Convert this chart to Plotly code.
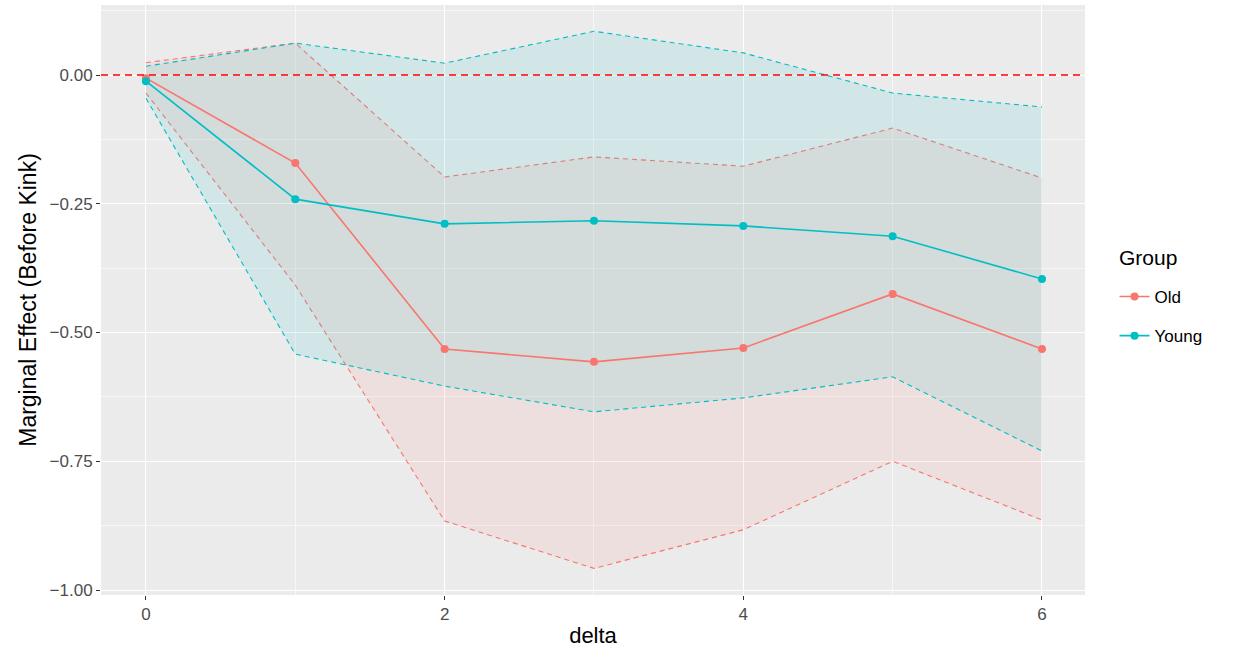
import plotly.graph_objects as go

delta = [0, 1, 2, 3, 4, 5, 6]
old_mean = [-0.006, -0.171, -0.532, -0.557, -0.530, -0.425, -0.532]
old_upper = [0.024, 0.062, -0.198, -0.159, -0.177, -0.103, -0.200]
old_lower = [-0.035, -0.408, -0.866, -0.958, -0.883, -0.750, -0.864]
young_mean = [-0.012, -0.241, -0.289, -0.283, -0.293, -0.313, -0.396]
young_upper = [0.017, 0.062, 0.023, 0.085, 0.043, -0.035, -0.062]
young_lower = [-0.045, -0.542, -0.604, -0.654, -0.627, -0.586, -0.730]

groups = [
    ("Old", "#F8766D", "rgba(248,118,109,0.1)", old_mean, old_upper, old_lower),
    ("Young", "#00BFC4", "rgba(0,191,196,0.1)", young_mean, young_upper, young_lower),
]

FONT = "Liberation Sans, Arial, Helvetica"
fig = go.Figure()
dash = "5px,4px"
for name, col, fill, m, u, l in groups:
    fig.add_trace(go.Scatter(x=delta, y=u, mode="lines", line=dict(color=col, width=1.1, dash=dash),
                             showlegend=False, hoverinfo="skip", legendgroup=name))
    fig.add_trace(go.Scatter(x=delta, y=l, mode="lines", line=dict(color=col, width=1.1, dash=dash),
                             fill="tonexty", fillcolor=fill, showlegend=False, hoverinfo="skip",
                             legendgroup=name))
for name, col, fill, m, u, l in groups:
    fig.add_trace(go.Scatter(x=delta, y=m, mode="lines+markers", name=name,
                             line=dict(color=col, width=1.6),
                             marker=dict(color=col, size=8), legendgroup=name))

fig.add_hline(y=0, line=dict(color="#FF0000", width=1.6, dash="7px,5px"))

tickfont = dict(family=FONT, size=17, color="#4D4D4D")

fig.add_annotation(text="Group", xref="paper", yref="paper", x=1.033, y=0.572,
                   xanchor="left", yanchor="middle", showarrow=False,
                   font=dict(size=21, family=FONT, color="black"))

fig.update_layout(
    width=1238, height=654,
    margin=dict(l=101, r=153, t=5, b=59),
    paper_bgcolor="white", plot_bgcolor="#EBEBEB",
    font=dict(family=FONT, color="black"),
    xaxis=dict(range=[-0.301, 6.288], tickvals=[0, 2, 4, 6], ticktext=["0", "2", "4", "6"],
               title=dict(text="delta", font=dict(size=22, family=FONT), standoff=4),
               showgrid=True, gridcolor="white", gridwidth=1.1, zeroline=False,
               ticks="outside", ticklen=4, tickcolor="#333333", tickfont=tickfont,
               minor=dict(showgrid=True, gridcolor="#F7F7F7", gridwidth=0.6, tickvals=[1, 3, 5])),
    yaxis=dict(range=[-1.0097, 0.136], tickvals=[0, -0.25, -0.5, -0.75, -1.0],
               ticktext=["0.00", "\u22120.25", "\u22120.50", "\u22120.75", "\u22121.00"],
               title=dict(text="Marginal Effect (Before Kink)", font=dict(size=23, family=FONT), standoff=6),
               showgrid=True, gridcolor="white", gridwidth=1.1, zeroline=False,
               ticks="outside", ticklen=4, tickcolor="#333333", tickfont=tickfont,
               minor=dict(showgrid=True, gridcolor="#F7F7F7", gridwidth=0.6,
                          tickvals=[0.125, -0.125, -0.375, -0.625, -0.875])),
    legend=dict(font=dict(size=17, family=FONT),
                x=1.03, y=0.472, xanchor="left", yanchor="middle", bgcolor="rgba(0,0,0,0)",
                tracegroupgap=14, traceorder="grouped"),
)

fig.write_html("out.html")
